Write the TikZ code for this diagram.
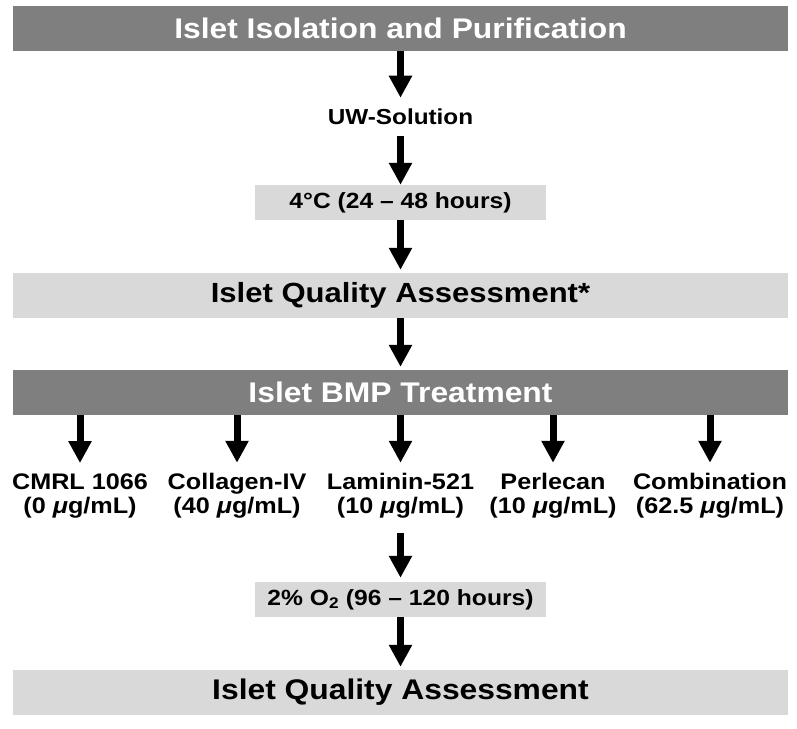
\documentclass[tikz,border=0pt]{standalone}
\usepackage{fontspec}
\setmainfont{Liberation Sans}
\newfontfamily\wfont[FakeStretch=1.12,Ligatures=TeX]{Liberation Sans}
\usetikzlibrary{arrows.meta}
\definecolor{dkgray}{RGB}{127,127,127}
\definecolor{ltgray}{RGB}{217,217,217}
\begin{document}
\begin{tikzpicture}[x=1pt,y=-1pt,
  bar/.style={minimum width=775pt, minimum height=45pt, inner sep=0pt, font=\wfont\fontsize{28.4}{34}\selectfont\bfseries},
  darkbar/.style={bar, fill=dkgray, text=white},
  lightbar/.style={bar, fill=ltgray, text=black},
  cond/.style={fill=ltgray, minimum width=291pt, minimum height=35pt, inner sep=0pt, font=\wfont\fontsize{22}{26}\selectfont\bfseries},
  lbl/.style={align=center, inner sep=0pt, font=\wfont\fontsize{22.5}{24}\selectfont\bfseries},
  plain/.style={inner xsep=0pt, inner ysep=11pt, font=\wfont\fontsize{21.7}{26}\selectfont\bfseries},
  arr/.style={-{Triangle[width=22pt,length=22pt]}, line width=7pt}
]
\fill[white] (0,0) rectangle (797,728);
\useasboundingbox (0,0) rectangle (797,728);

\node[darkbar] (iso) at (400.5,28.5) {Islet Isolation and Purification};
\node[plain] (uw) at (400.5,116.9) {UW-Solution};
\node[cond] (c1) at (400.5,202.5) {4°C (24 – 48 hours)};
\node[lightbar, font=\wfont\fontsize{27.7}{34}\selectfont\bfseries] (qa) at (400.5,295.5) {Islet Quality Assessment*};
\node[darkbar] (bmp) at (400.5,392.5) {Islet BMP Treatment};

\node[lbl] (l1) at (80,496) {CMRL 1066\\(0 \textit{μ}g/mL)};
\node[lbl] (l2) at (237,496) {Collagen-IV\\(40 \textit{μ}g/mL)};
\node[lbl] (l3) at (400.5,496) {Laminin-521\\(10 \textit{μ}g/mL)};
\node[lbl] (l4) at (553,496) {Perlecan\\(10 \textit{μ}g/mL)};
\node[lbl] (l5) at (710,496) {Combination\\(62.5 \textit{μ}g/mL)};

\node[cond] (c2) at (400.5,599.5) {2\% O\textsubscript{2} (96 – 120 hours)};
\node[lightbar] (fqa) at (400.5,692.5) {Islet Quality Assessment};

\draw[arr] (iso.south) -- (uw.north);
\draw[arr] (uw.south) -- (c1.north);
\draw[arr, shorten >=3pt] (c1.south) -- (qa.north);
\draw[arr, shorten >=3pt] (qa.south) -- (bmp.north);
\foreach \n in {l1,l2,l3,l4,l5}
  \draw[arr, shorten >=10.5pt] (bmp.south -| \n.north) -- (\n.north);
\draw[arr, shorten <=14pt, shorten >=4pt] (l3.south) -- (c2.north);
\draw[arr, shorten >=3pt] (c2.south) -- (fqa.north);
\end{tikzpicture}
\end{document}
